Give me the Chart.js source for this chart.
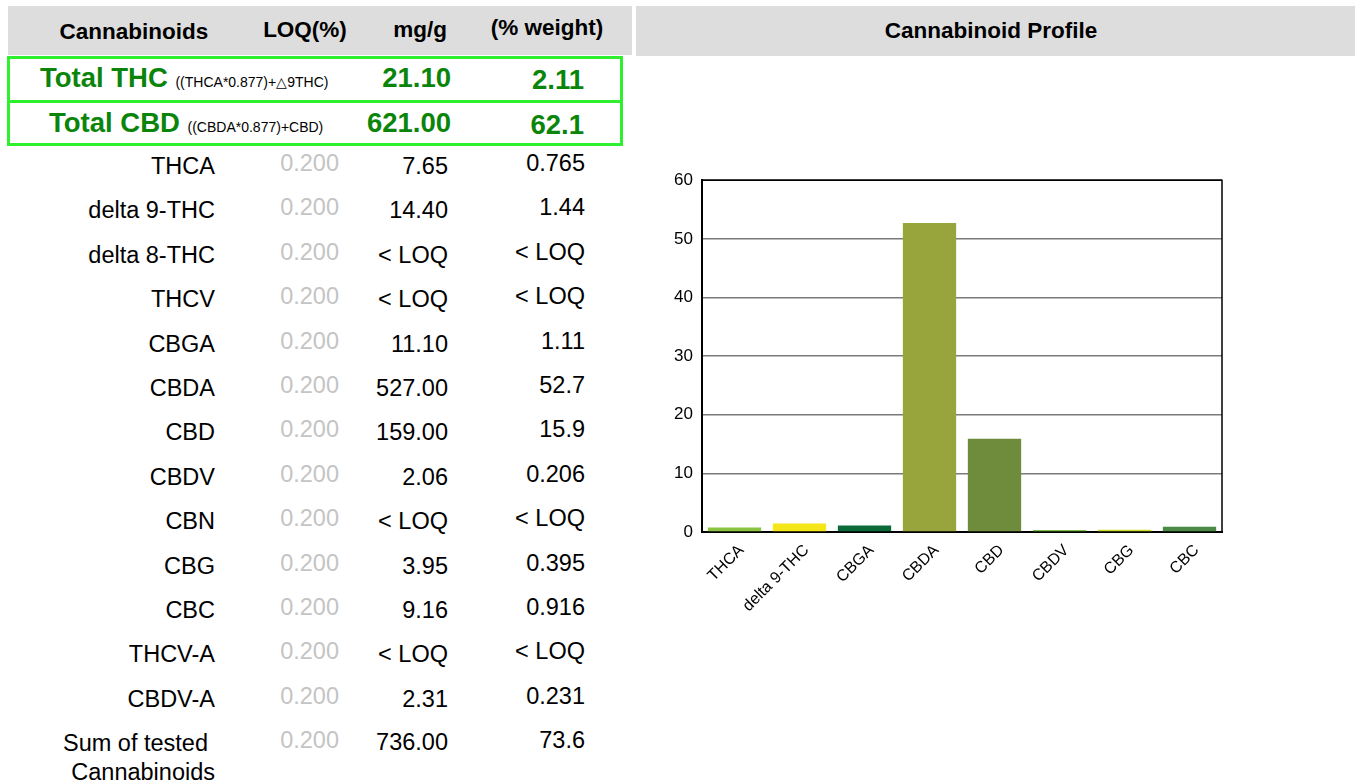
<!DOCTYPE html>
<html>
<head>
<meta charset="utf-8">
<script src="https://cdn.jsdelivr.net/npm/chart.js@4.4.0/dist/chart.umd.min.js"></script>
<style>
  body { margin: 0; background: #fff; font-family: "Liberation Sans", Arial, sans-serif; }
  #page { position: relative; width: 1355px; height: 784px; overflow: hidden; }
  .band { position: absolute; background: #dddddd; }
  .t { position: absolute; white-space: nowrap; line-height: 24px; }
  .hd { font-weight: bold; font-size: 22.5px; color: #000; }
  .box { position: absolute; border: 3px solid #2ef02e; box-sizing: border-box; }
  .big { font-weight: bold; font-size: 27.5px; color: #0a850a; line-height: 30px; }
  .small { font-size: 14px; font-weight: normal; color: #000; }
  .row { font-size: 23.5px; color: #000; }
  .loq { color: #c4c4c4; }
  #cv { position: absolute; left: 640px; top: 161px; }
</style>
</head>
<body>
<div id="page">
  <div class="band" style="left:8px;top:6px;width:624px;height:49px;"></div>
  <div class="band" style="left:636px;top:6px;width:719px;height:50px;"></div>
  <div class="t hd" style="left:8px;top:20px;width:252px;text-align:center;">Cannabinoids</div>
  <div class="t hd" style="left:240px;top:18px;width:130px;text-align:center;">LOQ(%)</div>
  <div class="t hd" style="left:370px;top:18px;width:100px;text-align:center;">mg/g</div>
  <div class="t hd" style="left:470px;top:16px;width:154px;text-align:center;">(% weight)</div>
  <div class="t hd" style="left:636px;top:19px;width:710px;text-align:center;">Cannabinoid Profile</div>

  <div class="box" style="left:7px;top:56px;width:616px;height:47px;"></div>
  <div class="box" style="left:7px;top:100px;width:616px;height:46px;"></div>
  <div id="table"></div>
  <canvas id="cv" width="600" height="469"></canvas>
</div>
<script>
// chart data (% weight)
const labels = ['THCA', 'delta 9-THC', 'CBGA', 'CBDA', 'CBD', 'CBDV', 'CBG', 'CBC'];
const pctValues = [0.765, 1.44, 1.11, 52.7, 15.9, 0.206, 0.395, 0.916];
const barColors = ['#8bc443', '#f5e61a', '#0b6b38', '#98a43c', '#6f8c3d', '#7dbd48', '#cbdb2a', '#4b8a45'];
const yMin = 0, yMax = 60, yStep = 10;

// table data
const rowNames = ['THCA', 'delta 9-THC', 'delta 8-THC', 'THCV', 'CBGA', 'CBDA', 'CBD', 'CBDV', 'CBN', 'CBG', 'CBC', 'THCV-A', 'CBDV-A'];
const rowLoq = ['0.200', '0.200', '0.200', '0.200', '0.200', '0.200', '0.200', '0.200', '0.200', '0.200', '0.200', '0.200', '0.200'];
const rowMg = ['7.65', '14.40', '< LOQ', '< LOQ', '11.10', '527.00', '159.00', '2.06', '< LOQ', '3.95', '9.16', '< LOQ', '2.31'];
const rowPct = ['0.765', '1.44', '< LOQ', '< LOQ', '1.11', '52.7', '15.9', '0.206', '< LOQ', '0.395', '0.916', '< LOQ', '0.231'];
const totalNames = ['Total THC', 'Total CBD'];
const totalFormulas = ['((THCA*0.877)+\u25B39THC)', '((CBDA*0.877)+CBD)'];
const totalMg = ['21.10', '621.00'];
const totalPct = ['2.11', '62.1'];
const sumLabel = ['Sum of tested', 'Cannabinoids'];
const sumLoq = '0.200', sumMg = '736.00', sumPct = '73.6';

function cell(parent, text, cls, rightX, centerY) {
    const d = document.createElement('div');
    d.className = 't ' + cls;
    d.style.left = '0px';
    d.style.width = rightX + 'px';
    d.style.textAlign = 'right';
    d.style.top = (centerY - 12) + 'px';
    d.textContent = text;
    parent.appendChild(d);
    return d;
}

function buildTable() {
    const tbl = document.getElementById('table');
    // totals in the green boxes
    const totalNameLeft = [40, 49];
    const totalY = [78, 123];
    for (let i = 0; i < totalNames.length; i++) {
        const d = document.createElement('div');
        d.className = 't big';
        d.style.left = totalNameLeft[i] + 'px';
        d.style.top = (totalY[i] - 15) + 'px';
        d.innerHTML = totalNames[i] + ' <span class="small">' + totalFormulas[i] + '</span>';
        tbl.appendChild(d);
        cell(tbl, totalMg[i], 'big', 451, totalY[i] - 3);
        cell(tbl, totalPct[i], 'big', 584, totalY[i] - 1);
    }
    const y0 = 166, step = 44.4;
    for (let i = 0; i < rowNames.length; i++) {
        const y = y0 + i * step;
        cell(tbl, rowNames[i], 'row', 215, y);
        cell(tbl, rowLoq[i], 'row loq', 339, y - 3);
        cell(tbl, rowMg[i], 'row', 448, y);
        cell(tbl, rowPct[i], 'row', 585, y - 3);
    }
    const ys = y0 + rowNames.length * step;
    cell(tbl, sumLabel[0], 'row', 208, ys);
    cell(tbl, sumLabel[1], 'row', 215, ys + 29);
    cell(tbl, sumLoq, 'row loq', 339, ys - 3);
    cell(tbl, sumMg, 'row', 448, ys - 1);
    cell(tbl, sumPct, 'row', 585, ys - 3);
}

const framePlugin = {
    id: 'frame',
    afterDraw(chart) {
        const { ctx, chartArea } = chart;
        ctx.save();
        ctx.strokeStyle = '#000';
        ctx.lineWidth = 1.5;
        ctx.beginPath();
        ctx.moveTo(chartArea.left, chartArea.top);
        ctx.lineTo(chartArea.right, chartArea.top);
        ctx.lineTo(chartArea.right, chartArea.bottom);
        ctx.stroke();
        ctx.restore();
    }
};

function initializeChart() {
    const ctx = document.getElementById('cv');
    new Chart(ctx, {
        type: 'bar',
        data: {
            labels: labels,
            datasets: [{
                label: '% weight',
                data: pctValues,
                backgroundColor: barColors,
                borderWidth: 0,
                minBarLength: 2,
                barPercentage: 0.82,
                categoryPercentage: 1.0
            }]
        },
        options: {
            responsive: false,
            animation: false,
            devicePixelRatio: 1,
            layout: { padding: { top: 10, right: 18, left: 0, bottom: 0 } },
            plugins: {
                legend: { display: false },
                tooltip: { enabled: false }
            },
            scales: {
                x: {
                    grid: { display: false },
                    border: { color: '#000', width: 2 },
                    ticks: {
                        color: '#000',
                        minRotation: 45,
                        maxRotation: 45,
                        padding: 1,
                        labelOffset: 7,
                        font: { family: 'Liberation Sans', size: 16 }
                    },
                    afterFit: (scale) => { scale.height = 98; }
                },
                y: {
                    min: yMin,
                    max: yMax,
                    grid: { color: '#7a7a7a', lineWidth: 1.5, drawTicks: false },
                    border: { color: '#000', width: 2 },
                    ticks: {
                        stepSize: yStep,
                        color: '#000',
                        padding: 9,
                        font: { family: 'Liberation Sans', size: 17 }
                    },
                    afterFit: (scale) => { scale.width = 62; }
                }
            }
        },
        plugins: [framePlugin]
    });
}

buildTable();
initializeChart();
</script>
</body>
</html>
